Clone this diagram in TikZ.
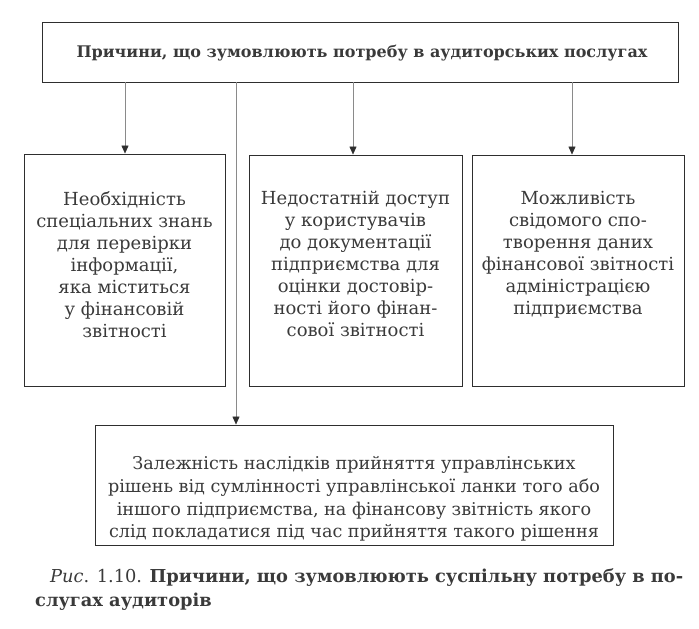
\documentclass[tikz,border=0pt]{standalone}
\usepackage{fontspec}
\setmainfont{DejaVu Serif}
\usetikzlibrary{arrows.meta}
\definecolor{ink}{HTML}{3A3A3A}
\definecolor{frame}{HTML}{2E2E2E}
\definecolor{wire}{HTML}{8A8A8A}
\tikzset{
  boxframe/.style={draw=frame, line width=0.9pt, rectangle, inner sep=0pt},
  boxtext/.style={text=ink, align=center, font=\fontsize{18}{22}\selectfont, inner sep=0pt},
  conn/.style={draw=wire, line width=0.6pt, -{Triangle[length=8pt,width=7pt,fill=frame,color=frame]}},
  captext/.style={text=ink, anchor=west, font=\fontsize{17.8}{22}\selectfont, inner sep=0pt}
}
\begin{document}
\begin{tikzpicture}[x=1pt,y=-1pt]
\useasboundingbox (0,0) rectangle (699,629);
% boxes
\node[boxframe, minimum width=636pt, minimum height=60pt] (top) at (360,52) {};
\node[boxtext, font=\fontsize{16}{20}\bfseries\selectfont] (toptext) at (362,53) {Причини, що зумовлюють потребу в аудиторських послугах};
\node[boxframe, minimum width=201pt, minimum height=232pt] (b1) at (124.5,270) {};
\node[boxframe, minimum width=213pt, minimum height=231pt] (b2) at (355.5,270.5) {};
\node[boxframe, minimum width=212pt, minimum height=231pt] (b3) at (578,270.5) {};
\node[boxframe, minimum width=518pt, minimum height=120pt] (b4) at (354,485) {};
% texts
\node[boxtext, anchor=north] (t1) at (124.5,191) {Необхідність\\спеціальних знань\\для перевірки\\інформації,\\яка міститься\\у фінансовій\\звітності};
\node[boxtext, anchor=north] (t2) at (355.5,191) {Недостатній доступ\\у користувачів\\до документації\\підприємства для\\оцінки достовір-\\ності його фінан-\\сової звітності};
\node[boxtext, anchor=north] (t3) at (578,191) {Можливість\\свідомого спо-\\творення даних\\фінансової звітності\\адміністрацією\\підприємства};
\node[boxtext, font=\fontsize{17.6}{22.6}\selectfont] (t4) at (354,499) {Залежність наслідків прийняття управлінських\\рішень від сумлінності управлінської ланки того або\\іншого підприємства, на фінансову звітність якого\\слід покладатися під час прийняття такого рішення};
% connectors
\coordinate (s1) at (125,82);
\coordinate (s2) at (236,82);
\coordinate (s3) at (353,82);
\coordinate (s4) at (572,82);
\draw[conn] (s1) -- (s1 |- b1.north);
\draw[conn] (s3) -- (s3 |- b2.north);
\draw[conn] (s4) -- (s4 |- b3.north);
\draw[conn] (s2) -- (s2 |- b4.north);
% caption
\node[captext] (cap1) at (50,578) {\textit{Рис}. 1.10. \textbf{Причини, що зумовлюють суспільну потребу в по-}};
\node[captext] (cap2) at (35,602) {\textbf{слугах аудиторів}};
\end{tikzpicture}
\end{document}
